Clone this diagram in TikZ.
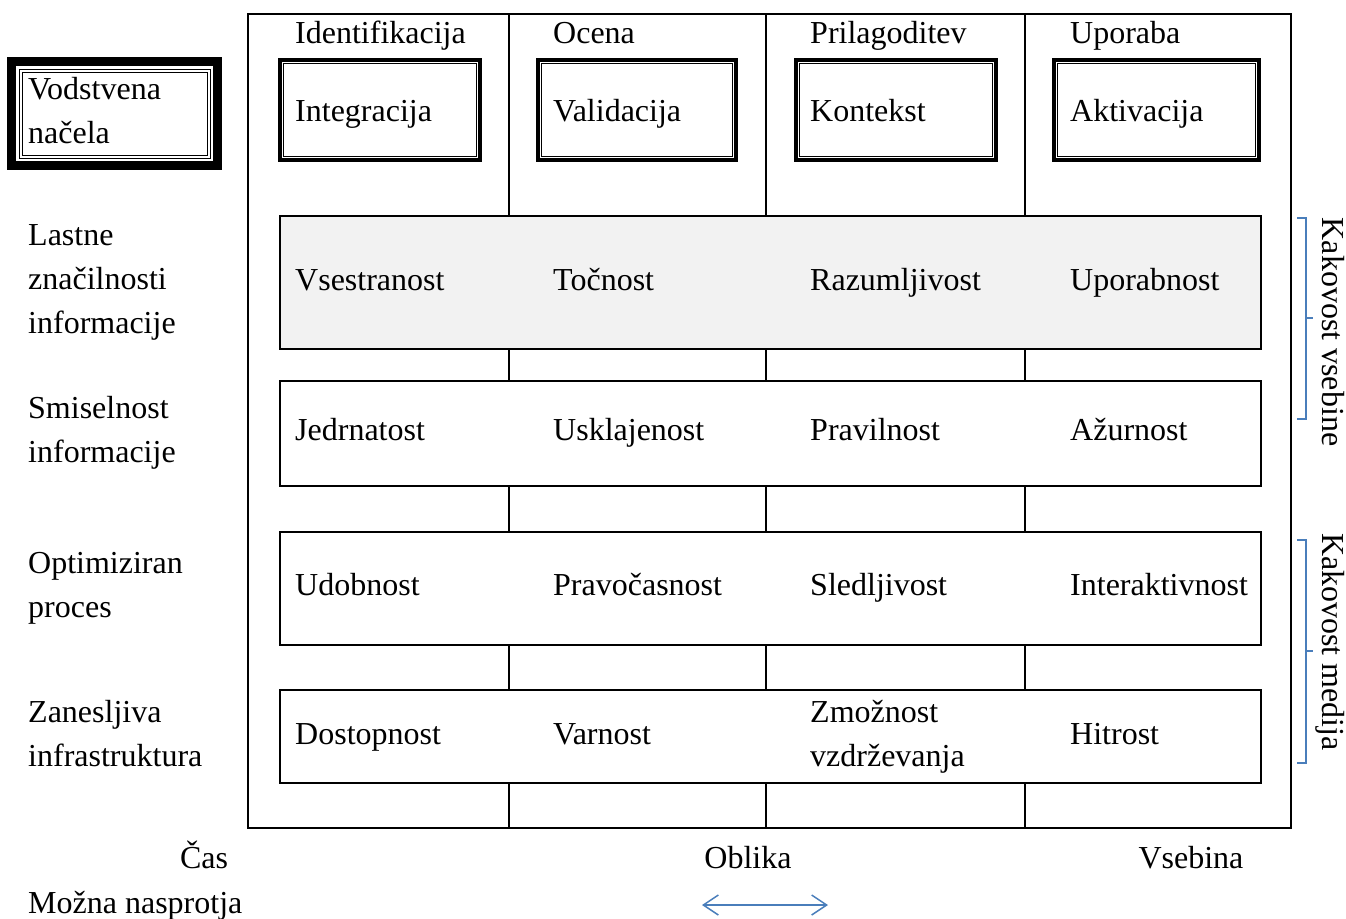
\documentclass[tikz,border=0pt]{standalone}
\usepackage{fontspec}
\setmainfont{Liberation Serif}
\usetikzlibrary{arrows.meta}
\definecolor{offblue}{HTML}{4A7EBB}
\definecolor{rowgray}{HTML}{F2F2F2}
\newcommand{\ml}[1]{\begin{tabular}[t]{@{}l@{}}#1\end{tabular}}
\begin{document}
\begin{tikzpicture}[x=1pt,y=-1pt,
  txt/.style={anchor=base west, inner sep=0pt, font=\fontsize{32}{44}\selectfont},
  ctxt/.style={anchor=base, inner sep=0pt, font=\fontsize{32}{44}\selectfont},
  vtxt/.style={anchor=base, inner sep=0pt, rotate=-90, font=\fontsize{32}{44}\selectfont},
  frame/.style={draw=black, line width=2pt},
  rowbox/.style={draw=black, line width=2pt, fill=white, minimum width=981pt, inner sep=0pt, outer sep=0pt},
  topbox/.style={draw=black, line width=3.5pt, minimum height=100pt, inner sep=0pt, outer sep=0pt},
  inline/.style={draw=black, line width=1pt},
  bracket/.style={draw=offblue, line width=1.5pt},
  dblarrow/.style={draw=offblue, line width=1.5pt, {Straight Barb[length=15pt,width=20pt]}-{Straight Barb[length=15pt,width=20pt]}}
]
\useasboundingbox (0,0) rectangle (1346,918);

% outer frame
\node[frame, minimum width=1043pt, minimum height=814pt, inner sep=0pt, outer sep=0pt] (fr) at (769.5,421) {};

% column dividers
\coordinate (d1t) at (509,14); \coordinate (d1b) at (509,828);
\coordinate (d2t) at (766,14); \coordinate (d2b) at (766,828);
\coordinate (d3t) at (1025,14); \coordinate (d3b) at (1025,828);
\draw[frame] (d1t) -- (d1b);
\draw[frame] (d2t) -- (d2b);
\draw[frame] (d3t) -- (d3b);

% rows
\node[rowbox, fill=rowgray, minimum height=133pt] (r1) at (770.5,282.5) {};
\node[rowbox, minimum height=105pt] (r2) at (770.5,433.5) {};
\node[rowbox, minimum height=113pt] (r3) at (770.5,588.5) {};
\node[rowbox, minimum height=93pt] (r4) at (770.5,736.5) {};

% top boxes
\foreach \n/\cx/\w in {t1/380/200, t2/637/198, t3/896/200, t4/1156.5/205}{
  \node[topbox, minimum width=\w pt] (\n) at (\cx,110) {};
  \draw[inline] ([shift={(3.5,3.5)}]\n.north west) rectangle ([shift={(-3.5,-3.5)}]\n.south east);
}

% Vodstvena nacela box
\node[draw=black, line width=9pt, minimum width=206pt, minimum height=104pt, inner sep=0pt, outer sep=0pt] (vn) at (114.5,113.5) {};
\draw[inline] ([shift={(7.5,7.5)}]vn.north west) rectangle ([shift={(-7.5,-7.5)}]vn.south east);
\draw[inline] ([shift={(10.5,10.5)}]vn.north west) rectangle ([shift={(-10.5,-10.5)}]vn.south east);
\node[txt] (vnt) at (28,99) {\ml{Vodstvena\\načela}};

% top labels
\node[txt] (h1) at (295,43) {Identifikacija};
\node[txt] (h2) at (553,43) {Ocena};
\node[txt] (h3) at (810,43) {Prilagoditev};
\node[txt] (h4) at (1070,43) {Uporaba};

\node[txt] (t1t) at (295,121) {Integracija};
\node[txt] (t2t) at (553,121) {Validacija};
\node[txt] (t3t) at (810,121) {Kontekst};
\node[txt] (t4t) at (1070,121) {Aktivacija};

% left labels
\node[txt] (l1) at (28,245) {\ml{Lastne\\značilnosti\\informacije}};
\node[txt] (l2) at (28,418) {\ml{Smiselnost\\informacije}};
\node[txt] (l3) at (28,573) {\ml{Optimiziran\\proces}};
\node[txt] (l4) at (28,722) {\ml{Zanesljiva\\infrastruktura}};

% row texts
\node[txt] (a1) at (295,290) {Vsestranost};
\node[txt] (a2) at (553,290) {Točnost};
\node[txt] (a3) at (810,290) {Razumljivost};
\node[txt] (a4) at (1070,290) {Uporabnost};

\node[txt] (b1) at (295,440) {Jedrnatost};
\node[txt] (b2) at (553,440) {Usklajenost};
\node[txt] (b3) at (810,440) {Pravilnost};
\node[txt] (b4) at (1070,440) {Ažurnost};

\node[txt] (c1) at (295,595) {Udobnost};
\node[txt] (c2) at (553,595) {Pravočasnost};
\node[txt] (c3) at (810,595) {Sledljivost};
\node[txt] (c4) at (1070,595) {Interaktivnost};

\node[txt] (e1) at (295,744) {Dostopnost};
\node[txt] (e2) at (553,744) {Varnost};
\node[txt] (e3) at (810,722) {\ml{Zmožnost\\vzdrževanja}};
\node[txt] (e4) at (1070,744) {Hitrost};

% brackets
\draw[bracket] (1297,218) -- (1306,218) -- (1306,419) -- (1297,419);
\draw[bracket] (1306,318) -- (1313,318);
\draw[bracket] (1297,540) -- (1306,540) -- (1306,763) -- (1297,763);
\draw[bracket] (1306,651) -- (1313,651);
\node[vtxt] (kv) at (1322,332) {Kakovost vsebine};
\node[vtxt] (km) at (1322,642) {Kakovost medija};

% bottom
\node[ctxt] (cas) at (204,868) {Čas};
\node[ctxt] (obl) at (748,868) {Oblika};
\node[ctxt] (vseb) at (1191,868) {Vsebina};
\node[txt] (mn) at (28,913) {Možna nasprotja};
\coordinate (arL) at (702,905);
\coordinate (arR) at (828,905);
\draw[dblarrow] (arL) -- (arR);
\end{tikzpicture}
\end{document}
